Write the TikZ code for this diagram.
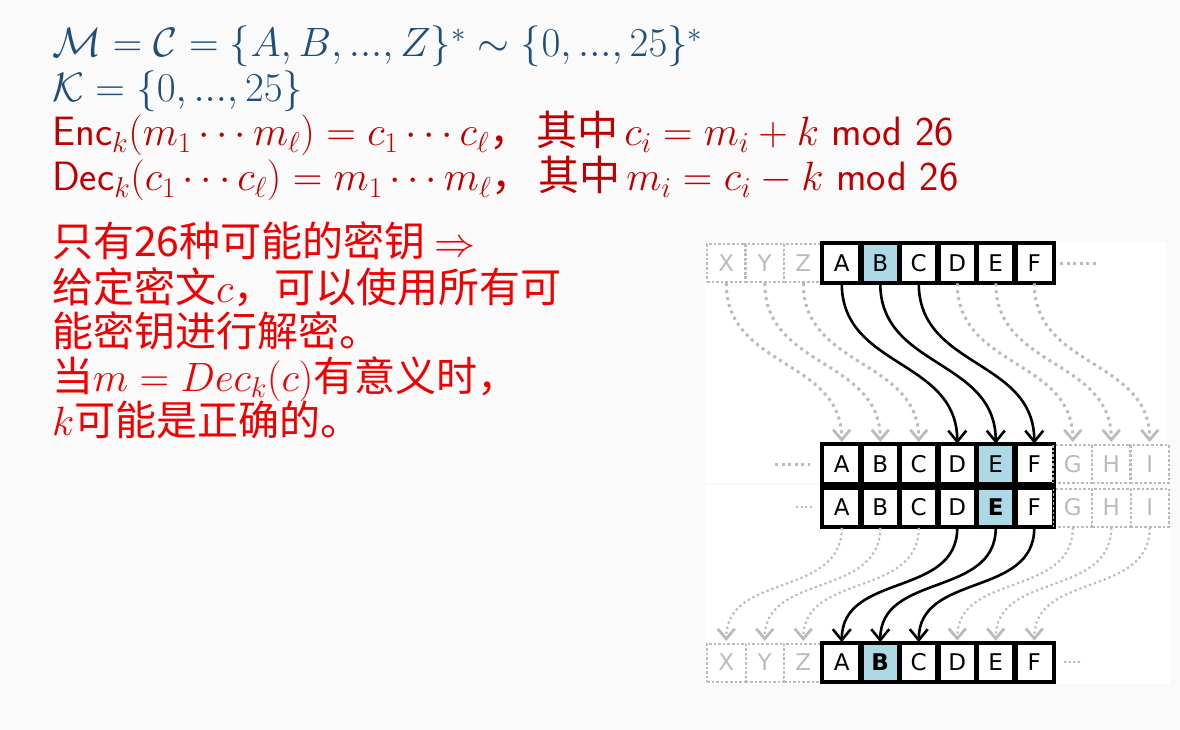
\RequirePackage{fix-cm}
\documentclass[tikz,border=0pt]{standalone}
\usepackage{fontspec}
\usetikzlibrary{arrows.meta}
\newfontfamily\cjk{Noto Sans CJK SC}
\newfontfamily\cellfont{DejaVu Sans}
\definecolor{dblue}{HTML}{1F4E79}
\definecolor{dred}{HTML}{C00000}
\definecolor{bred}{HTML}{F00000}
\definecolor{cellblue}{HTML}{ADD8E6}
\definecolor{ghost}{HTML}{BBBBBB}
\begin{document}
\begin{tikzpicture}[x=1pt,y=-1pt,
  cell/.style={draw=black,line width=2.6pt,fill=white,minimum width=38.5pt,minimum height=38pt,inner sep=0pt,font=\cellfont\fontsize{23}{23}\selectfont},
  ghostcell/.style={cell,draw=ghost,dotted,line width=2.4pt,text=ghost},
  hl/.style={fill=cellblue},
  solidarr/.style={line width=2.6pt,-{Straight Barb[length=11pt,width=18pt,line width=2.6pt]}},
  dotarr/.style={line width=3pt,draw=ghost,dash pattern=on 3pt off 4pt,-{Straight Barb[length=10pt,width=17pt,line width=2.8pt,sep]}},
  txt/.style={anchor=base west,inner sep=0pt,font=\sffamily\fontsize{41}{41}\selectfont}]
\fill[black!2] (0,0) rectangle (1180,730);
\useasboundingbox (0,0) rectangle (1180,730);
\fill[white] (705,242) rectangle (1166,483);
\fill[white] (705,485) rectangle (1170,684);
% text
\node[txt,text=dblue] (l1) at (52,57) {$\mathcal{M}=\mathcal{C}=\{A,B,...,Z\}^*\sim\{0,...,25\}^*$};
\node[txt,text=dblue] (l2) at (52,102) {$\mathcal{K}=\{0,...,25\}$};
\node[txt,text=dred] (l3) at (52,146) {Enc$_k(m_1\cdots m_\ell)=c_1\cdots c_\ell$\cjk，\hspace{6pt}其中\hspace{6pt}\sffamily$c_i=m_i+k$ mod 26};
\node[txt,text=dred] (l4) at (52,191) {Dec$_k(c_1\cdots c_\ell)=m_1\cdots m_\ell$\cjk，\hspace{6pt}其中\hspace{6pt}\sffamily$m_i=c_i-k$ mod 26};
\node[txt,text=bred] (p1) at (52,256) {\cjk 只有26种可能的密钥 $\Rightarrow$};
\node[txt,text=bred] (p2) at (52,302) {\cjk 给定密文$c$，可以使用所有可};
\node[txt,text=bred] (p3) at (52,346) {\cjk 能密钥进行解密。};
\node[txt,text=bred] (p4) at (52,391) {\cjk 当$m=Dec_k(c)$有意义时，};
\node[txt,text=bred] (p5) at (52,435) {\cjk $k$可能是正确的。};
% cells
\def\letters{{"X","Y","Z","A","B","C","D","E","F","G","H","I"}}
\foreach \k in {0,...,8}{
  \pgfmathsetmacro\L{\letters[\k]}
  \pgfmathsetmacro\cx{726.25+38.5*\k}
  \ifnum\k<3
    \node[ghostcell] (r1k\k) at (\cx,263) {\L};
    \node[ghostcell,line width=2pt] (r4k\k) at (\cx,662.5) {\L};
  \else\ifnum\k=4
    \node[cell,hl] (r1k\k) at (\cx,263) {\L};
    \node[cell,hl] (r4k\k) at (\cx,662.5) {\textbf{\L}};
  \else
    \node[cell] (r1k\k) at (\cx,263) {\L};
    \node[cell] (r4k\k) at (\cx,662.5) {\L};
  \fi\fi
}
\foreach \k in {3,...,11}{
  \pgfmathsetmacro\L{\letters[\k]}
  \pgfmathsetmacro\cx{726.25+38.5*\k}
  \ifnum\k>8
    \node[ghostcell] (r2k\k) at (\cx,464) {\L};
    \node[ghostcell,line width=2pt] (r3k\k) at (\cx,507.5) {\L};
  \else\ifnum\k=7
    \node[cell,hl] (r2k\k) at (\cx,464) {\L};
    \node[cell,hl] (r3k\k) at (\cx,507.5) {\textbf{\L}};
  \else
    \node[cell] (r2k\k) at (\cx,464) {\L};
    \node[cell] (r3k\k) at (\cx,507.5) {\L};
  \fi\fi
}
\foreach \k in {3,...,8}{
  \draw[line width=2.6pt] (r1k\k.north west) rectangle (r1k\k.south east);
  \draw[line width=2.6pt] (r2k\k.north west) rectangle (r2k\k.south east);
  \draw[line width=2.6pt] (r3k\k.north west) rectangle (r3k\k.south east);
  \draw[line width=2.6pt] (r4k\k.north west) rectangle (r4k\k.south east);
}
% ellipses
\coordinate (d1a) at (1060,263); \coordinate (d1b) at (1096,263);
\draw[line width=3pt,ghost,dash pattern=on 3pt off 3.5pt] (d1a) -- (d1b);
\coordinate (d2a) at (775,464); \coordinate (d2b) at (810,464);
\draw[line width=3pt,ghost,dash pattern=on 3pt off 3.5pt] (d2a) -- (d2b);
\coordinate (d3a) at (796,507); \coordinate (d3b) at (812,507);
\draw[line width=2pt,ghost,dash pattern=on 2pt off 2.5pt] (d3a) -- (d3b);
\coordinate (d4a) at (1064,662); \coordinate (d4b) at (1082,662);
\draw[line width=2pt,ghost,dash pattern=on 2pt off 2.5pt] (d4a) -- (d4b);
% arrows
\foreach \k in {0,1,2,6,7,8}{
  \pgfmathtruncatemacro\t{\k+3}
  \draw[dotarr] (r1k\k.south) to[out=-90,in=90,looseness=1.1] (r2k\t.north);
}
\foreach \k in {3,4,5}{
  \pgfmathtruncatemacro\t{\k+3}
  \draw[solidarr] (r1k\k.south) to[out=-90,in=90,looseness=1.1] (r2k\t.north);
}
\foreach \k in {3,4,5,9,10,11}{
  \pgfmathtruncatemacro\t{\k-3}
  \draw[dotarr,line width=2.2pt,dash pattern=on 2.2pt off 3pt] (r3k\k.south) to[out=-90,in=90,looseness=1.1] (r4k\t.north);
}
\foreach \k in {6,7,8}{
  \pgfmathtruncatemacro\t{\k-3}
  \draw[solidarr] (r3k\k.south) to[out=-90,in=90,looseness=1.1] (r4k\t.north);
}
\end{tikzpicture}
\end{document}
